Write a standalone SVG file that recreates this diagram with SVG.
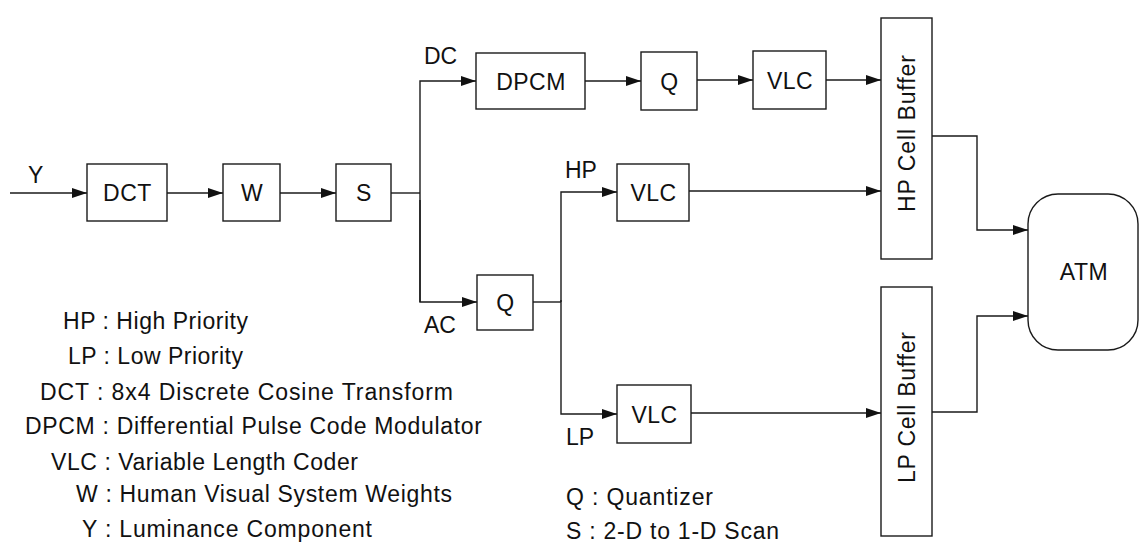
<svg xmlns="http://www.w3.org/2000/svg" width="1140" height="547" viewBox="0 0 1140 547">
<defs>
<style>
.box{fill:#fff;stroke:#1a1a1a;stroke-width:1.4}
.ln{fill:none;stroke:#1a1a1a;stroke-width:1.4}
.arr{marker-end:url(#ah)}
text{font-family:"Liberation Sans",Arial,sans-serif;font-size:23px;fill:#111}
.c{text-anchor:middle;letter-spacing:0.5px}
</style>
<marker id="ah" markerUnits="userSpaceOnUse" markerWidth="15" markerHeight="10" refX="15" refY="5" orient="auto">
<path d="M0,0 L15,5 L0,10 z" fill="#111"/>
</marker>
</defs>
<rect width="1140" height="547" fill="#fff"/>
<g id="connectors">
<path class="ln arr" d="M10,193 H87"/>
<path class="ln arr" d="M167,193 H223"/>
<path class="ln arr" d="M280,193 H336"/>
<path class="ln" d="M391,193 H420"/>
<path class="ln arr" d="M420,302 V81 H476"/>
<path class="ln arr" d="M420,200 V302 H477"/>
<path class="ln arr" d="M585,81 H641"/>
<path class="ln arr" d="M697,80 H753"/>
<path class="ln arr" d="M826,80 H881"/>
<path class="ln" d="M533,302 H561"/>
<path class="ln arr" d="M561,302 V192 H617"/>
<path class="ln arr" d="M561,300 V414 H617"/>
<path class="ln arr" d="M689,191 H881"/>
<path class="ln arr" d="M691,413 H881"/>
<path class="ln arr" d="M932,136 H977 V230 H1028"/>
<path class="ln arr" d="M932,412 H977 V316 H1028"/>
</g>
<g id="node-dct"><rect class="box" x="87" y="164" width="80" height="57"/><text class="c" x="127.5" y="201">DCT</text></g>
<g id="node-w"><rect class="box" x="223" y="164" width="57" height="57"/><text class="c" x="252" y="201">W</text></g>
<g id="node-s"><rect class="box" x="336" y="164" width="55" height="57"/><text class="c" x="364" y="201">S</text></g>
<g id="node-dpcm"><rect class="box" x="476" y="53" width="109" height="56"/><text class="c" x="531" y="90">DPCM</text></g>
<g id="node-q1"><rect class="box" x="641" y="52" width="56" height="58"/><text class="c" x="669.5" y="90">Q</text></g>
<g id="node-vlc1"><rect class="box" x="753" y="51" width="73" height="58"/><text class="c" x="790" y="89">VLC</text></g>
<g id="node-q2"><rect class="box" x="477" y="275" width="56" height="55"/><text class="c" x="505.5" y="311">Q</text></g>
<g id="node-vlc2"><rect class="box" x="617" y="164" width="72" height="57"/><text class="c" x="653.5" y="201">VLC</text></g>
<g id="node-vlc3"><rect class="box" x="617" y="385" width="74" height="58"/><text class="c" x="654.5" y="423">VLC</text></g>
<g id="node-hpbuf"><rect class="box" x="881" y="18" width="51" height="241"/><text transform="translate(915,212) rotate(-90)" textLength="157" lengthAdjust="spacing">HP Cell Buffer</text></g>
<g id="node-lpbuf"><rect class="box" x="881" y="287" width="51" height="249"/><text transform="translate(915,483) rotate(-90)" textLength="151" lengthAdjust="spacing">LP Cell Buffer</text></g>
<g id="node-atm"><rect class="box" x="1028" y="194" width="110" height="156" rx="30" ry="30"/><text class="c" x="1084" y="280">ATM</text></g>
<g id="labels">
<text x="28" y="183">Y</text>
<text x="424" y="64">DC</text>
<text x="424" y="333">AC</text>
<text x="565" y="178">HP</text>
<text x="566" y="445">LP</text>
</g>
<g id="legend">
<text x="63" y="329" textLength="185" lengthAdjust="spacing">HP : High Priority</text>
<text x="68" y="364" textLength="175" lengthAdjust="spacing">LP : Low Priority</text>
<text x="40" y="400" textLength="413" lengthAdjust="spacing">DCT : 8x4 Discrete Cosine Transform</text>
<text x="25" y="434" textLength="457" lengthAdjust="spacing">DPCM : Differential Pulse Code Modulator</text>
<text x="51" y="470" textLength="307" lengthAdjust="spacing">VLC : Variable Length Coder</text>
<text x="76" y="502" textLength="376" lengthAdjust="spacing">W : Human Visual System Weights</text>
<text x="82" y="537" textLength="290" lengthAdjust="spacing">Y : Luminance Component</text>
<text x="566" y="505" textLength="147" lengthAdjust="spacing">Q : Quantizer</text>
<text x="566" y="539" textLength="213" lengthAdjust="spacing">S : 2-D to 1-D Scan</text>
</g>
</svg>
